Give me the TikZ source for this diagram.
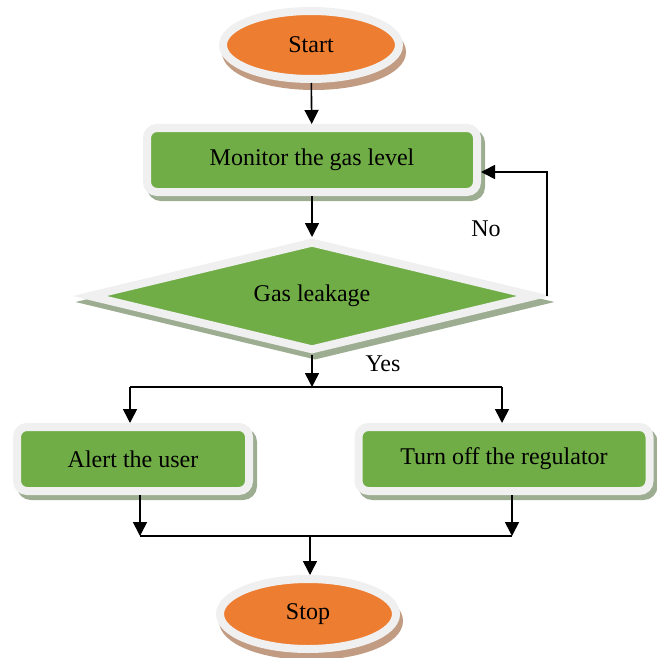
\documentclass[tikz,border=0pt]{standalone}
\usepackage{fontspec}
\setmainfont{Liberation Serif}
\usetikzlibrary{shapes.geometric, arrows.meta}

\definecolor{orangefill}{HTML}{ED7D31}
\definecolor{greenfill}{HTML}{70AD47}
\definecolor{ringgray}{HTML}{F0F0F0}
\definecolor{orangeshadow}{HTML}{C29C82}
\definecolor{greenshadow}{HTML}{9DAD91}

\begin{document}
\begin{tikzpicture}[
    x=0.5pt, y=-0.5pt,
    font=\fontsize{12}{14}\selectfont,
    terminal/.style={ellipse, fill=orangefill, draw=ringgray, line width=4pt,
        minimum width=88pt, minimum height=34pt, inner sep=0pt,
        preaction={fill=orangeshadow, draw=orangeshadow, line width=4pt,
            transform canvas={xshift=1.5pt, yshift=-3.5pt}}},
    process/.style={rectangle, rounded corners=5pt, fill=greenfill, draw=ringgray,
        line width=4pt, minimum height=32pt, inner sep=0pt,
        preaction={fill=greenshadow, draw=greenshadow, line width=4pt,
            transform canvas={xshift=2pt, yshift=-2.5pt}}},
    decision/.style={diamond, aspect=4, fill=greenfill, draw=ringgray, line width=4pt,
        minimum width=224pt, minimum height=55pt, inner sep=0pt,
        preaction={fill=greenshadow, draw=greenshadow, line width=4pt,
            transform canvas={xshift=1.5pt, yshift=-3pt}}},
    flow/.style={-{Triangle[length=7pt, width=7pt]}, line width=0.8pt},
    link/.style={line width=0.8pt}
]
    \useasboundingbox (0,0) rectangle (657,658);

    % Nodes
    \node[terminal] (start) at (311,45) {Start};
    \node[process, minimum width=165pt] (monitor) at (312,160) {Monitor the gas level};
    \node[decision] (leak) at (312,296) {Gas leakage};
    \node[process, minimum width=116pt] (alert) at (133,459) {Alert the user};
    \node[process, minimum width=145.5pt] (off) at (504,459) {Turn off the regulator};
    \node[terminal, minimum height=35pt] (stop) at (308,614) {Stop};

    % Labels
    \node (nolbl) at (486,229) {No};
    \node (yeslbl) at (383,364) {Yes};

    % Branch points
    \coordinate (split) at (312,387);
    \coordinate (splitL) at (130,387);
    \coordinate (splitR) at (502,387);
    \coordinate (joinL) at (140,536);
    \coordinate (joinR) at (512,536);
    \coordinate (join) at (310,536);
    \coordinate (noturn) at (547,172);

    % Connectors
    \draw[flow] (start) -- (monitor);
    \draw[flow] (monitor) -- (leak);
    \draw[flow] (leak.east -| noturn) -- (noturn) -- (monitor.east |- noturn);
    \draw[flow] (leak) -- (split);
    \draw[link] (splitL) -- (splitR);
    \draw[flow] (splitL) -- (splitL |- alert.north);
    \draw[flow] (splitR) -- (splitR |- off.north);
    \draw[flow] (alert.south -| joinL) -- (joinL);
    \draw[flow] (off.south -| joinR) -- (joinR);
    \draw[link] (joinL) -- (joinR);
    \draw[flow] (join) -- (join |- stop.north);
\end{tikzpicture}
\end{document}
